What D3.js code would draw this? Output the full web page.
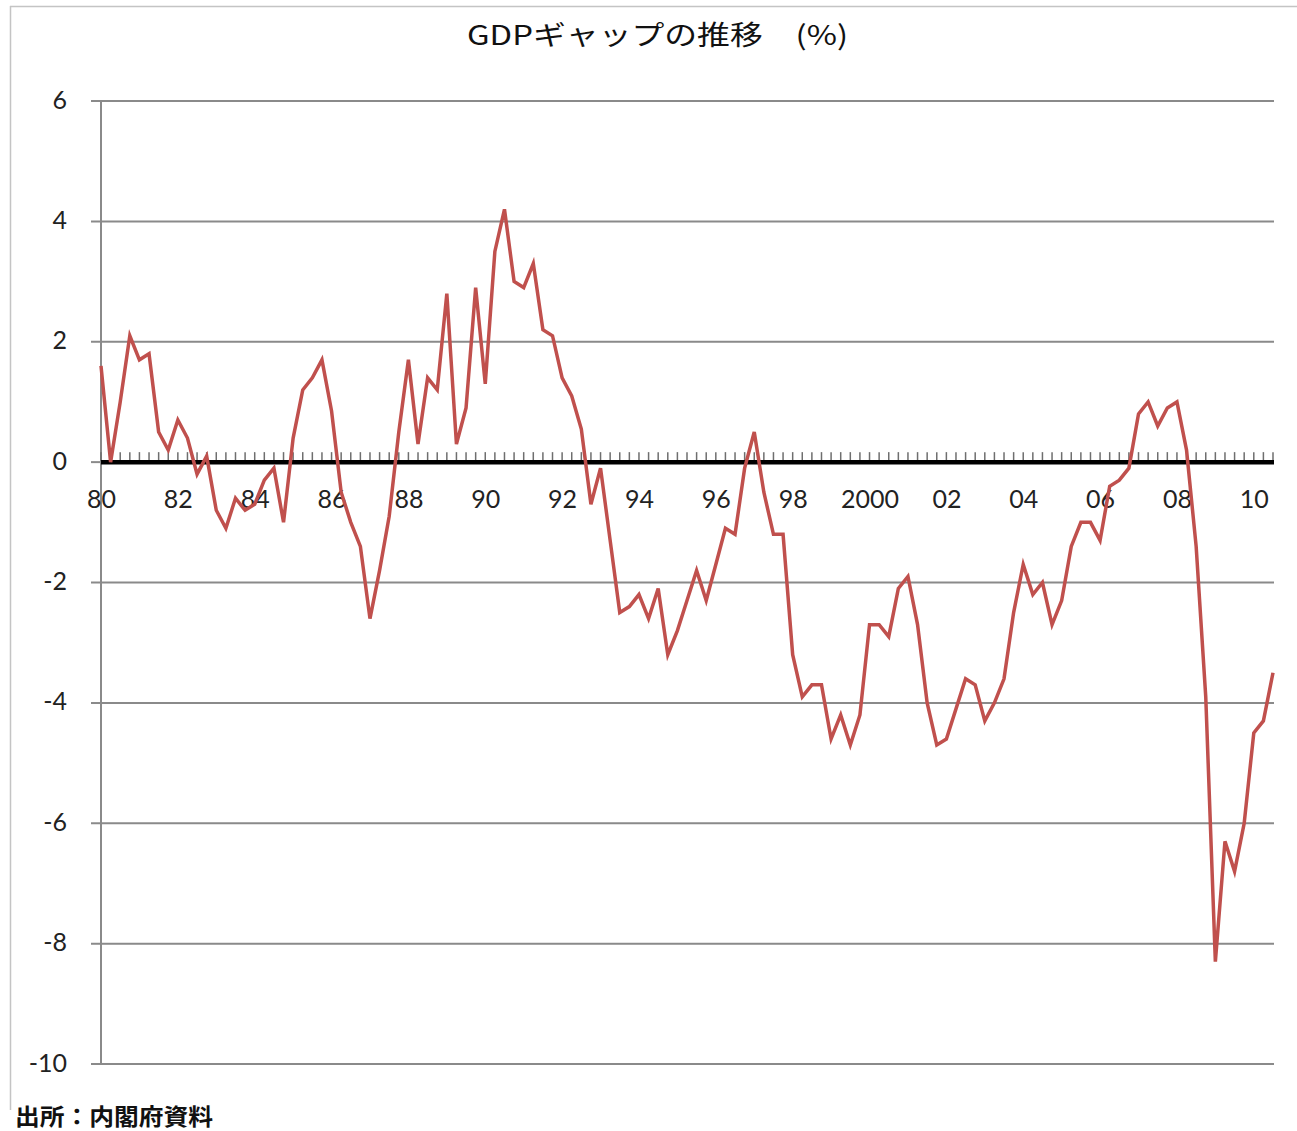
<!DOCTYPE html>
<html>
<head>
<meta charset="utf-8">
<script src="https://cdn.jsdelivr.net/npm/d3@7"></script>
<style>
  html, body { margin: 0; padding: 0; background: #fff; }
  svg { display: block; }
</style>
</head>
<body>
<svg id="chart" width="1297" height="1131"></svg>
<script>
// ---- data ----
const startYear = 1980;
const gdpGap = [
  1.6, 0.0, 1.0, 2.1, 1.7, 1.8, 0.5, 0.2, 0.7, 0.4,
  -0.2, 0.1, -0.8, -1.1, -0.6, -0.8, -0.7, -0.3, -0.1, -1.0,
  0.4, 1.2, 1.4, 1.7, 0.85, -0.5, -1.0, -1.4, -2.6, -1.8,
  -0.9, 0.5, 1.7, 0.3, 1.4, 1.2, 2.8, 0.3, 0.9, 2.9,
  1.3, 3.5, 4.2, 3.0, 2.9, 3.3, 2.2, 2.1, 1.4, 1.1,
  0.55, -0.7, -0.1, -1.3, -2.5, -2.4, -2.2, -2.6, -2.1, -3.2,
  -2.8, -2.3, -1.8, -2.3, -1.7, -1.1, -1.2, -0.1, 0.5, -0.5,
  -1.2, -1.2, -3.2, -3.9, -3.7, -3.7, -4.6, -4.2, -4.7, -4.2,
  -2.7, -2.7, -2.9, -2.1, -1.9, -2.7, -4.0, -4.7, -4.6, -4.1,
  -3.6, -3.7, -4.3, -4.0, -3.6, -2.5, -1.7, -2.2, -2.0, -2.7,
  -2.3, -1.4, -1.0, -1.0, -1.3, -0.4, -0.3, -0.1, 0.8, 1.0,
  0.6, 0.9, 1.0, 0.2, -1.4, -3.9, -8.3, -6.3, -6.8, -6.0,
  -4.5, -4.3, -3.5
];
const quarters = gdpGap.map((_, i) => `${startYear + Math.floor(i / 4)}Q${(i % 4) + 1}`);
const xTickLabels = ["80","82","84","86","88","90","92","94","96","98","2000","02","04","06","08","10"];
const xTickQuarters = ["1980Q1","1982Q1","1984Q1","1986Q1","1988Q1","1990Q1","1992Q1","1994Q1","1996Q1","1998Q1","2000Q1","2002Q1","2004Q1","2006Q1","2008Q1","2010Q1"];
const yTicks = [6, 4, 2, 0, -2, -4, -6, -8, -10];
const yTickLabels = ["6", "4", "2", "0", "-2", "-4", "-6", "-8", "-10"];
const titleText = "GDPギャップの推移　(%)";
const sourceText = "出所：内閣府資料";

// ---- layout ----
const svg = d3.select("#chart");
const plotLeft = 101, plotRight = 1273, plotTop = 101, plotBottom = 1064;

const x = d3.scalePoint().domain(quarters).range([plotLeft, plotRight]);
const y = d3.scaleLinear().domain([-10, 6]).range([plotBottom, plotTop]);

// frame
svg.append("line").attr("x1", 10).attr("x2", 1297).attr("y1", 6.5).attr("y2", 6.5)
  .attr("stroke", "#c4c4c4").attr("stroke-width", 1.5);
svg.append("line").attr("x1", 10.5).attr("x2", 10.5).attr("y1", 6).attr("y2", 1110)
  .attr("stroke", "#c4c4c4").attr("stroke-width", 1.5);

// title
svg.append("text")
  .attr("x", 467).attr("y", 45)
  .attr("font-family", "'Noto Sans CJK JP', sans-serif")
  .attr("font-size", 27).attr("font-weight", 400)
  .attr("fill", "#111")
  .attr("textLength", 381).attr("lengthAdjust", "spacingAndGlyphs")
  .text(titleText);

// gridlines (non-zero)
const gridG = svg.append("g");
gridG.selectAll("line").data(yTicks.filter(d => d !== 0)).join("line")
  .attr("x1", 91).attr("x2", plotRight + 1)
  .attr("y1", d => y(d)).attr("y2", d => y(d))
  .attr("stroke", "#8a8a8a").attr("stroke-width", 2);
// zero tick stub
svg.append("line").attr("x1", 91).attr("x2", plotLeft).attr("y1", y(0)).attr("y2", y(0))
  .attr("stroke", "#8a8a8a").attr("stroke-width", 2);

// y axis line
svg.append("line").attr("x1", plotLeft).attr("x2", plotLeft)
  .attr("y1", plotTop).attr("y2", plotBottom)
  .attr("stroke", "#8a8a8a").attr("stroke-width", 2);

// y labels
const yAxis = d3.axisLeft(y).tickValues(yTicks)
  .tickFormat((d, i) => yTickLabels[i]).tickSize(0).tickPadding(0);
const yg = svg.append("g").attr("transform", "translate(67,0)").call(yAxis);
yg.select(".domain").remove();
yg.selectAll("text")
  .attr("font-family", "Lato, 'Open Sans', sans-serif")
  .attr("font-size", 25).attr("fill", "#222")
  .attr("dy", "0.28em").attr("x", 0);

// quarterly tick marks along zero line
svg.append("g").selectAll("line").data(quarters).join("line")
  .attr("x1", d => x(d)).attr("x2", d => x(d))
  .attr("y1", y(0) - 1).attr("y2", y(0) - 10)
  .attr("stroke", "#6e6e6e").attr("stroke-width", 1.5);

// zero axis (thick black)
svg.append("line").attr("x1", plotLeft).attr("x2", plotRight + 1)
  .attr("y1", y(0)).attr("y2", y(0))
  .attr("stroke", "#000").attr("stroke-width", 4.5);

// x labels
const xAxis = d3.axisBottom(x).tickValues(xTickQuarters)
  .tickFormat((d, i) => xTickLabels[i]).tickSize(0).tickPadding(0);
const xg = svg.append("g").attr("transform", `translate(0,${y(0)})`).call(xAxis);
xg.select(".domain").remove();
xg.selectAll("text")
  .attr("font-family", "Lato, 'Open Sans', sans-serif")
  .attr("font-size", 25).attr("fill", "#222")
  .attr("dy", 0).attr("y", 46);

// data line
const line = d3.line().x((d, i) => x(quarters[i])).y(d => y(d));
svg.append("path").datum(gdpGap)
  .attr("d", line)
  .attr("fill", "none")
  .attr("stroke", "#C0504D")
  .attr("stroke-width", 3.5)
  .attr("stroke-linejoin", "miter");

// source
svg.append("text")
  .attr("x", 15).attr("y", 1125)
  .attr("font-family", "'Noto Sans CJK JP', sans-serif")
  .attr("font-size", 23).attr("font-weight", 700)
  .attr("fill", "#111")
  .attr("textLength", 198).attr("lengthAdjust", "spacingAndGlyphs")
  .text(sourceText);
</script>
</body>
</html>
